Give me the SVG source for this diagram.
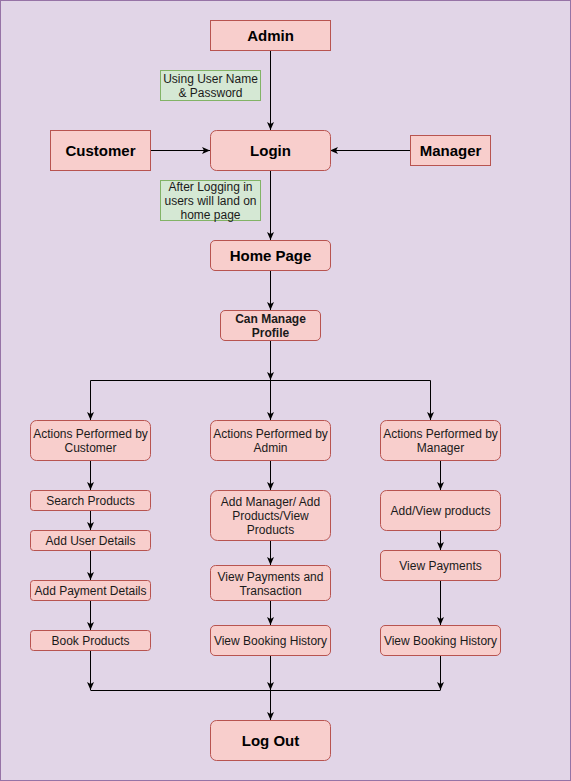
<svg xmlns="http://www.w3.org/2000/svg" width="571" height="781" viewBox="0 0 571 781">
<defs>
<marker id="arr" markerUnits="userSpaceOnUse" markerWidth="8" markerHeight="8" viewBox="0 0 8 8" refX="8" refY="4" orient="auto">
<path d="M0,0.5 L8,4 L0,7.5 L2,4 Z" fill="#000"/>
</marker>
</defs>
<style>
.n{fill:#f8cecc;stroke:#b85450;stroke-width:1}
.g{fill:#d5e8d4;stroke:#82b366;stroke-width:1}
.t{font-family:"Liberation Sans",Arial,sans-serif;font-size:12px;fill:#1a1a1a;text-anchor:middle}
.h{font-family:"Liberation Sans",Arial,sans-serif;font-size:15px;font-weight:bold;fill:#000;text-anchor:middle}
.b{font-weight:bold}
.e{fill:none;stroke:#000;stroke-width:1}
.a{marker-end:url(#arr)}
</style>
<rect x="0.5" y="0.5" width="570" height="780" fill="#e1d5e7" stroke="#9673a6"/>
<g id="connectors">
<path class="e a" d="M270.5,50 L270.5,130"/>
<path class="e a" d="M150,150.5 L210,150.5"/>
<path class="e a" d="M410,150.5 L330,150.5"/>
<path class="e a" d="M270.5,170 L270.5,240"/>
<path class="e a" d="M270.5,270 L270.5,310"/>
<path class="e a" d="M270.5,340 L270.5,380"/>
<path class="e" d="M90.5,380.5 L430.5,380.5"/>
<path class="e a" d="M90.5,380.5 L90.5,420"/>
<path class="e a" d="M270.5,380.5 L270.5,420"/>
<path class="e a" d="M430.5,380.5 L430.5,420"/>
<path class="e a" d="M90.5,460 L90.5,490"/>
<path class="e a" d="M90.5,510 L90.5,530"/>
<path class="e a" d="M90.5,550 L90.5,580"/>
<path class="e a" d="M90.5,600 L90.5,630"/>
<path class="e a" d="M90.5,650 L90.5,690"/>
<path class="e a" d="M270.5,460 L270.5,490"/>
<path class="e a" d="M270.5,540 L270.5,565"/>
<path class="e a" d="M270.5,600 L270.5,625"/>
<path class="e a" d="M270.5,655 L270.5,690"/>
<path class="e a" d="M440.5,460 L440.5,490"/>
<path class="e a" d="M440.5,530 L440.5,550"/>
<path class="e a" d="M440.5,580 L440.5,625"/>
<path class="e a" d="M440.5,655 L440.5,690"/>
<path class="e" d="M90.5,690.5 L440.5,690.5"/>
<path class="e a" d="M270.5,690.5 L270.5,720"/>
</g>
<g id="admin"><rect class="n" x="210.5" y="20.5" width="120" height="30"/><text class="h" x="270.5" y="41">Admin</text></g>
<g id="label-credentials"><rect class="g" x="160.5" y="70.5" width="100" height="30"/><text class="t" x="210.5" y="83">Using User Name</text><text class="t" x="210.5" y="97">&amp; Password</text></g>
<g id="customer"><rect class="n" x="50.5" y="130.5" width="100" height="40"/><text class="h" x="100.5" y="156">Customer</text></g>
<g id="login"><rect class="n" x="210.5" y="130.5" width="120" height="40" rx="6"/><text class="h" x="270.5" y="156">Login</text></g>
<g id="manager"><rect class="n" x="410.5" y="135.5" width="80" height="30"/><text class="h" x="450.5" y="156">Manager</text></g>
<g id="label-after-login"><rect class="g" x="160.5" y="180.5" width="100" height="40"/><text class="t" x="210.5" y="191">After Logging in</text><text class="t" x="210.5" y="205">users will land on</text><text class="t" x="210.5" y="219">home page</text></g>
<g id="home-page"><rect class="n" x="210.5" y="240.5" width="120" height="30" rx="4.5"/><text class="h" x="270.5" y="261">Home Page</text></g>
<g id="manage-profile"><rect class="n" x="220.5" y="310.5" width="100" height="30" rx="4.5"/><text class="t b" x="270.5" y="323">Can Manage</text><text class="t b" x="270.5" y="337">Profile</text></g>
<g id="actions-customer"><rect class="n" x="30.5" y="420.5" width="120" height="40" rx="6"/><text class="t" x="90.5" y="437.5">Actions Performed by</text><text class="t" x="90.5" y="451.5">Customer</text></g>
<g id="actions-admin"><rect class="n" x="210.5" y="420.5" width="120" height="40" rx="6"/><text class="t" x="270.5" y="437.5">Actions Performed by</text><text class="t" x="270.5" y="451.5">Admin</text></g>
<g id="actions-manager"><rect class="n" x="380.5" y="420.5" width="120" height="40" rx="6"/><text class="t" x="440.5" y="437.5">Actions Performed by</text><text class="t" x="440.5" y="451.5">Manager</text></g>
<g id="search-products"><rect class="n" x="30.5" y="490.5" width="120" height="20" rx="3"/><text class="t" x="90.5" y="505">Search Products</text></g>
<g id="add-user-details"><rect class="n" x="30.5" y="530.5" width="120" height="20" rx="3"/><text class="t" x="90.5" y="545">Add User Details</text></g>
<g id="add-payment-details"><rect class="n" x="30.5" y="580.5" width="120" height="20" rx="3"/><text class="t" x="90.5" y="595">Add Payment Details</text></g>
<g id="book-products"><rect class="n" x="30.5" y="630.5" width="120" height="20" rx="3"/><text class="t" x="90.5" y="645">Book Products</text></g>
<g id="add-manager-products"><rect class="n" x="210.5" y="490.5" width="120" height="50" rx="7"/><text class="t" x="270.5" y="506">Add Manager/ Add</text><text class="t" x="270.5" y="520">Products/View</text><text class="t" x="270.5" y="534">Products</text></g>
<g id="view-payments-transaction"><rect class="n" x="210.5" y="565.5" width="120" height="35" rx="5"/><text class="t" x="270.5" y="581">View Payments and</text><text class="t" x="270.5" y="595">Transaction</text></g>
<g id="admin-booking-history"><rect class="n" x="210.5" y="625.5" width="120" height="30" rx="4.5"/><text class="t" x="270.5" y="645">View Booking History</text></g>
<g id="add-view-products"><rect class="n" x="380.5" y="490.5" width="120" height="40" rx="6"/><text class="t" x="440.5" y="515">Add/View products</text></g>
<g id="view-payments"><rect class="n" x="380.5" y="550.5" width="120" height="30" rx="4.5"/><text class="t" x="440.5" y="570">View Payments</text></g>
<g id="manager-booking-history"><rect class="n" x="380.5" y="625.5" width="120" height="30" rx="4.5"/><text class="t" x="440.5" y="645">View Booking History</text></g>
<g id="log-out"><rect class="n" x="210.5" y="720.5" width="120" height="40" rx="6"/><text class="h" x="270.5" y="746">Log Out</text></g>
</svg>
